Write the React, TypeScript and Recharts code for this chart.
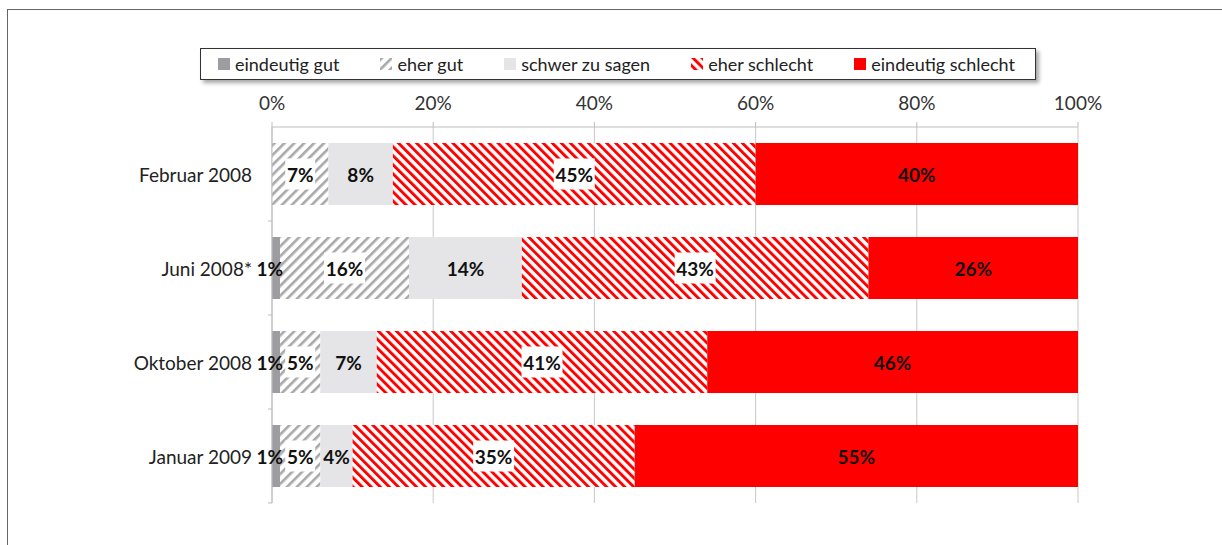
import React from 'react';
import {
  BarChart, Bar, XAxis, YAxis, CartesianGrid, LabelList,
} from 'recharts';

const categories = ['Februar 2008', 'Juni 2008*', 'Oktober 2008', 'Januar 2009'];
const eindeutigGut = [0, 1, 1, 1];
const eherGut = [7, 16, 5, 5];
const schwerZuSagen = [8, 14, 7, 4];
const eherSchlecht = [45, 43, 41, 35];
const eindeutigSchlecht = [40, 26, 46, 55];
const xTicks = [0, 20, 40, 60, 80, 100];

const data = categories.map((name, i) => ({
  name,
  eindeutigGut: eindeutigGut[i],
  eherGut: eherGut[i],
  schwerZuSagen: schwerZuSagen[i],
  eherSchlecht: eherSchlecht[i],
  eindeutigSchlecht: eindeutigSchlecht[i],
}));

const FONT = 'Lato, "Open Sans", sans-serif';

const series = [
  { key: 'eindeutigGut', name: 'eindeutig gut', fill: '#9D9DA1', box: false, edge: true },
  { key: 'eherGut', name: 'eher gut', fill: 'url(#hatchGray)', box: true, edge: false },
  { key: 'schwerZuSagen', name: 'schwer zu sagen', fill: '#E5E5E7', box: false, edge: false },
  { key: 'eherSchlecht', name: 'eher schlecht', fill: 'url(#hatchRed)', box: true, edge: false },
  { key: 'eindeutigSchlecht', name: 'eindeutig schlecht', fill: '#FF0000', box: false, edge: false },
];

const Patterns = ({ suffix = '' }: { suffix?: string }) => (
  <defs>
    <pattern id={`hatchGray${suffix}`} patternUnits="userSpaceOnUse" width="7" height="7" patternTransform="rotate(45)">
      <rect width="7" height="7" fill="#fff" />
      <rect width="2.6" height="7" fill="#A8A8A8" />
    </pattern>
    <pattern id={`hatchRed${suffix}`} patternUnits="userSpaceOnUse" width="6.4" height="6.4" patternTransform="rotate(-45)">
      <rect width="6.4" height="6.4" fill="#fff" />
      <rect width="2.9" height="6.4" fill="#FF0000" />
    </pattern>
  </defs>
);

const makeLabel = (box: boolean, edge: boolean) => (props: any) => {
  const { x, y, width, height, value } = props;
  if (!value) return null;
  const text = `${value}%`;
  const cx = edge ? x + width + 3 : x + width / 2;
  const cy = y + height / 2;
  const w = text.length * 11 + 8;
  return (
    <g>
      {box && <rect x={cx - w / 2} y={cy - 15.5} width={w} height={31} fill="#fff" />}
      <text x={cx} y={cy} textAnchor={edge ? 'end' : 'middle'} dominantBaseline="central"
        fontFamily={FONT} fontSize={19} fontWeight={700} fill="#111">
        {text}
      </text>
    </g>
  );
};

const CategoryTick = (props: any) => {
  const { x, y, payload } = props;
  const half = payload.offset ?? 47;
  return (
    <g>
      <text x={x} y={y} textAnchor="end" dominantBaseline="central"
        fontFamily={FONT} fontSize={19} fill="#222">
        {payload.value}
      </text>
      <line x1={x + 16} x2={x + 20} y1={y + half} y2={y + half} stroke="#BDBDBD" />
    </g>
  );
};

const LegendIcon = ({ fill, id }: { fill: string; id: string }) => (
  <svg width={12} height={12} style={{ marginRight: 5 }}>
    <Patterns suffix={id} />
    <rect width={12} height={12} fill={fill.startsWith('url') ? fill.replace(')', `${id})`) : fill} />
  </svg>
);

const LegendBox = () => (
  <div style={{
    position: 'absolute', left: 200, top: 48, width: 836, height: 32,
    display: 'flex', alignItems: 'center', justifyContent: 'space-between',
    border: '1px solid #333', background: '#fff', boxShadow: '3px 3px 4px rgba(0,0,0,0.35)',
    padding: '0 20px 0 17px', boxSizing: 'border-box',
    fontFamily: FONT, fontSize: 18, color: '#222',
  }}>
    {series.map((s) => (
      <div key={s.key} style={{ display: 'flex', alignItems: 'center' }}>
        <LegendIcon fill={s.fill} id={`L${s.key}`} />
        <span>{s.name}</span>
      </div>
    ))}
  </div>
);

export default function App() {
  return (
    <div style={{ position: 'absolute', left: 0, top: 0, width: 1222, height: 545, overflow: 'hidden', background: '#fff' }}>
      <div style={{ position: 'absolute', left: 7, top: 9, width: 1300, height: 600, border: '1.5px solid #666' }} />
      <div style={{ position: 'absolute', left: 0, top: 0 }}>
        <BarChart
          width={1222}
          height={545}
          data={data}
          layout="vertical"
          barSize={62}
          margin={{ top: 97, right: 144, bottom: 42, left: 72 }}
        >
          <Patterns />
          <CartesianGrid horizontal={false} stroke="#C8C8C8" />
          <XAxis
            type="number"
            orientation="top"
            domain={[0, 100]}
            ticks={xTicks}
            tickFormatter={(v) => `${v}%`}
            height={30}
            tickSize={5}
            tickMargin={12}
            stroke="#BDBDBD"
            tick={{ fill: '#333', fontSize: 19, fontFamily: FONT }}
          />
          <YAxis
            type="category"
            dataKey="name"
            width={200}
            tickLine={false}
            tickSize={0}
            tickMargin={20}
            stroke="#BDBDBD"
            tick={<CategoryTick />}
          />
          {series.map((s) => (
            <Bar key={s.key} dataKey={s.key} name={s.name} stackId="a" fill={s.fill} isAnimationActive={false}>
              <LabelList dataKey={s.key} content={makeLabel(s.box, s.edge)} />
            </Bar>
          ))}
        </BarChart>
      </div>
      <LegendBox />
    </div>
  );
}
